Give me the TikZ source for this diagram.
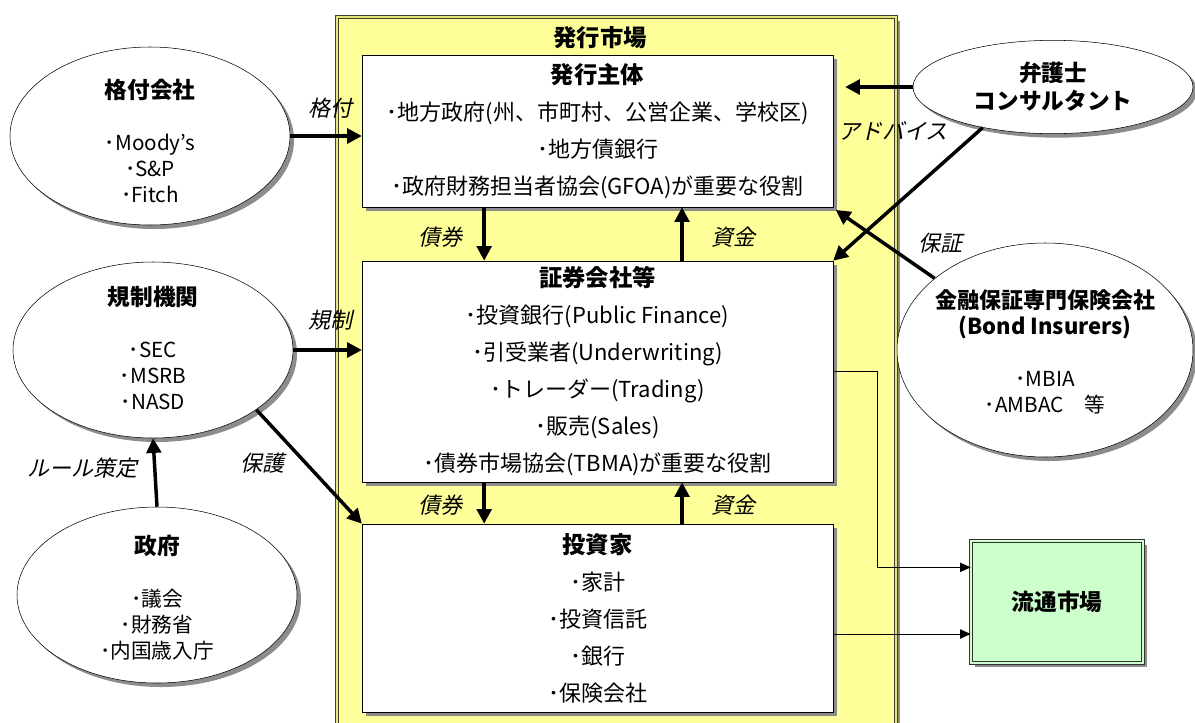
\documentclass[tikz,border=0pt]{standalone}
\usepackage{fontspec}
\setmainfont{Noto Sans CJK JP}
\newfontfamily\slfont[FakeSlant=0.22]{Noto Sans CJK JP}
\usetikzlibrary{shapes.geometric,shadows,arrows.meta}

\definecolor{mktyellow}{RGB}{255,255,153}
\definecolor{mktgreen}{RGB}{204,255,204}
\tikzset{
  shade/.style={drop shadow={shadow xshift=3pt,shadow yshift=-3pt,fill=black!45,opacity=1}},
  entity/.style={ellipse, draw, fill=white, shade, inner sep=0pt},
  enttext/.style={align=center, font=\fontsize{15.5}{19.5}\selectfont},
  actor/.style={rectangle, draw, fill=white, shade, align=center, minimum width=353pt,
    font=\fontsize{16.5}{27.75}\selectfont},
  flowlbl/.style={font=\slfont\fontsize{16.5}{18}\selectfont},
  bigarrow/.style={-{Triangle[length=11pt,width=11pt]}, line width=2.6pt},
  thinarrow/.style={-{Triangle[length=8pt,width=7pt]}, line width=0.7pt}
}
\newcommand{\hd}[1]{{\bfseries\fontsize{17.5}{27.75}\selectfont #1}}

\begin{document}
\begin{tikzpicture}[x=0.75pt,y=-0.75pt]
  \useasboundingbox (0,0) rectangle (1195,722);
  % issuing market frame
  \node[rectangle, draw=black!70!olive, line width=0.8pt, double=mktyellow!80!olive, double distance=1.5pt,
        fill=mktyellow, shade, minimum width=419pt, minimum height=545pt] (issue) at (616.5,380) {};
  \node[font=\bfseries\fontsize{17.5}{18}\selectfont] (issue-t) at (600,38) {発行市場};

  \node[actor, minimum height=114pt] (issuer) at (597.5,131) {%
    \hd{発行主体}\\
    ･地方政府(州、市町村、公営企業、学校区)\\
    ･地方債銀行\\
    ･政府財務担当者協会(GFOA)が重要な役割};
  \node[actor, minimum height=165.75pt] (broker) at (597.5,371.5) {%
    \hd{証券会社等}\\
    ･投資銀行(Public Finance)\\
    ･引受業者(Underwriting)\\
    ･トレーダー(Trading)\\
    ･販売(Sales)\\
    ･債券市場協会(TBMA)が重要な役割};
  \node[actor, minimum height=141pt] (investor) at (597.5,618) {%
    \hd{投資家}\\
    ･家計\\
    ･投資信託\\
    ･銀行\\
    ･保険会社};

  % outside players
  \node[entity, minimum width=210pt, minimum height=133.5pt] (rating) at (150,136) {};
  \node[enttext] (rating-t) at (150,141) {{\bfseries\fontsize{17}{19.5}\selectfont 格付会社}\\[19.5pt]･Moody's\\･S\&P\\･Fitch};
  \node[entity, minimum width=210pt, minimum height=132pt] (reg) at (153,350) {};
  \node[enttext] (reg-t) at (153,348) {{\bfseries\fontsize{17}{19.5}\selectfont 規制機関}\\[19.5pt]･SEC\\･MSRB\\･NASD};
  \node[entity, minimum width=210pt, minimum height=132pt] (gov) at (157,595) {};
  \node[enttext] (gov-t) at (157,598) {{\bfseries\fontsize{17}{19.5}\selectfont 政府}\\[19.5pt]･議会\\･財務省\\･内国歳入庁};
  \node[entity, minimum width=210pt, minimum height=70pt] (lawyer) at (1053,87) {};
  \node[enttext, font=\bfseries\fontsize{17}{21}\selectfont] (lawyer-t) at (1053,87) {弁護士\\コンサルタント};
  \node[entity, minimum width=222pt, minimum height=160.5pt] (bond) at (1045,350) {};
  \node[enttext] (bond-t) at (1045,352) {{\bfseries\fontsize{16.5}{21}\selectfont 金融保証専門保険会社}\\{\bfseries\fontsize{16.5}{21}\selectfont (Bond Insurers)}\\[19.5pt]･MBIA\\･AMBAC\quad 等};

  \node[rectangle, draw=black!80, double=mktgreen, double distance=1.6pt, fill=mktgreen, shade,
        minimum width=129pt, minimum height=91.5pt, font=\bfseries\fontsize{17}{18}\selectfont] (secmkt) at (1057,602) {流通市場};

  % flows
  \draw[bigarrow] (rating.east) -- (rating.east -| issuer.west);
  \draw[bigarrow] (reg.east) -- (reg.east -| broker.west);
  \draw[bigarrow] (gov.north) -- (reg.south);
  \draw[bigarrow] (reg.-30) -- (investor.north west);
  \draw[bigarrow] (lawyer.west) -- ([xshift=9pt]lawyer.west -| issuer.east);
  \draw[bigarrow] (lawyer.-150) -- (broker.north east);
  \draw[bigarrow] (bond.147) -- ([xshift=2pt,yshift=-2pt]issuer.south east);
  \foreach \a/\b in {issuer/broker, broker/investor} {
    \draw[bigarrow] ([xshift=-85pt]\a.south) -- ([xshift=-85pt]\b.north);
    \draw[bigarrow] ([xshift=63.4pt]\b.north) -- ([xshift=63.4pt]\a.south);
  }

  \coordinate (bend) at (877,371.5);
  \draw[thinarrow] (broker.east) -- (bend) |- ([yshift=26pt]secmkt.west);
  \draw[thinarrow] ([yshift=-12pt]investor.east) -- ([yshift=-12pt]investor.east -| secmkt.west);

  \node[flowlbl] (l-rate) at (330,108) {格付};
  \node[flowlbl] (l-reg) at (330,320) {規制};
  \node[flowlbl] (l-prot) at (262,463) {保護};
  \node[flowlbl] (l-rule) at (82,468) {ルール策定};
  \node[flowlbl] (l-adv) at (893,131) {アドバイス};
  \node[flowlbl] (l-guar) at (940,243) {保証};
  \node[flowlbl] (l-bd1) at (440,237) {債券};
  \node[flowlbl] (l-fd1) at (733,237) {資金};
  \node[flowlbl] (l-bd2) at (440,505) {債券};
  \node[flowlbl] (l-fd2) at (733,505) {資金};
\end{tikzpicture}
\end{document}
